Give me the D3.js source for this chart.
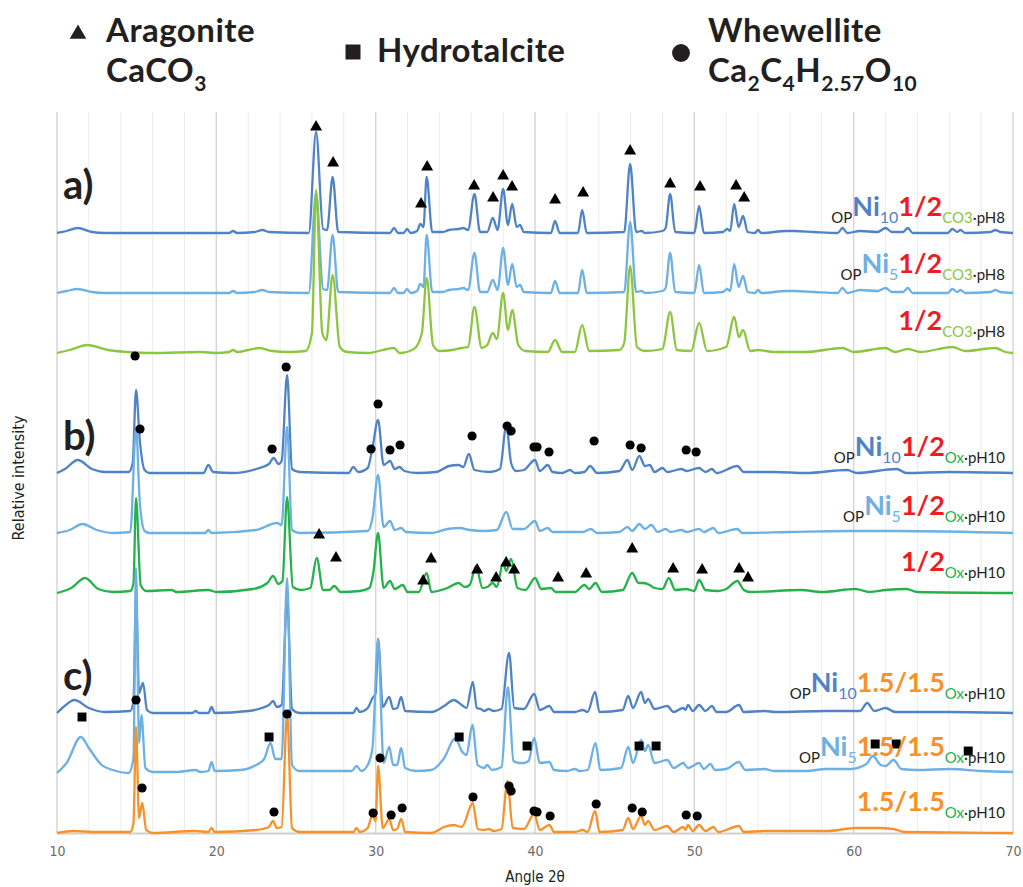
<!DOCTYPE html>
<html><head><meta charset="utf-8">
<script src="https://cdn.jsdelivr.net/npm/d3@7"></script>
<style>body{margin:0;background:#fff}svg{display:block}</style>
</head><body>
<svg id="chart" width="1023" height="887"></svg>
<script>
// ---------- DATA ----------
const xTickLabels = [10, 20, 30, 40, 50, 60, 70];
const traceNames = ["a1", "a2", "a3", "b1", "b2", "b3", "c1", "c2", "c3"];
const traceOffsets = [600, 540, 480, 360, 300, 240, 120, 60, 0];

const a1 = [[10,0],[10.6,2],[11.3,5],[12.2,1],[13,0],[20.8,0],[21.05,2],[21.3,0],[22.4,1],[22.9,3],[23.3,1],[25.8,0],[26.26,101],[26.7,4],[26.95,3],[27.3,56],[27.65,1],[30.9,0],[31.15,5],[31.4,0],[31.75,0],[31.97,4],[32.2,0],[32.6,2],[32.8,9],[33.0,6],[33.2,56],[33.55,1],[34.2,1],[34.6,3],[35.2,4],[35.5,5],[35.8,3],[36.2,39],[36.55,1],[37.0,1],[37.35,15],[37.65,3],[38.0,44],[38.3,8],[38.57,29],[38.85,6],[39.06,8],[39.3,1],[41.0,0],[41.26,12],[41.55,0],[42.7,0],[42.96,23],[43.25,0],[45.6,1],[45.97,69],[46.35,1],[46.7,2],[46.9,0],[48.0,2],[48.2,5],[48.48,39],[48.8,1],[50.0,0],[50.3,27],[50.6,0],[51.8,1],[52.06,4],[52.25,2],[52.5,29],[52.78,6],[53.06,17],[53.35,1],[53.8,0],[54.0,3],[54.2,0],[55.8,2],[56.3,2],[57.5,1],[59.0,0],[59.3,5],[59.6,0],[60.4,2],[61.5,1],[62.0,5],[62.4,1],[63.1,1],[63.4,5],[63.7,0],[65.9,0],[66.2,4],[66.5,1],[66.7,3],[67.0,0],[68.6,1],[68.9,3],[69.2,1],[70,0]];
const a2 = [[10,0],[10.6,2],[11.3,4],[12.2,1],[13,0],[20.8,0],[21.05,2],[21.3,0],[22.4,1],[22.9,3],[23.3,1],[25.8,0],[26.26,100],[26.7,4],[26.95,3],[27.3,58],[27.65,1],[30.9,0],[31.15,5],[31.4,0],[31.75,0],[31.97,4],[32.2,0],[32.6,2],[32.8,9],[33.0,6],[33.2,58],[33.55,1],[34.2,1],[34.6,3],[35.2,4],[35.5,5],[35.8,3],[36.2,40],[36.55,1],[37.0,1],[37.35,13],[37.65,3],[38.0,45],[38.3,8],[38.57,29],[38.85,6],[39.06,8],[39.3,1],[41.0,0],[41.26,12],[41.55,0],[42.7,0],[42.96,23],[43.25,0],[45.6,1],[45.97,71],[46.35,1],[46.7,2],[46.9,0],[48.0,2],[48.2,5],[48.48,40],[48.8,1],[50.0,0],[50.3,28],[50.6,0],[51.8,1],[52.06,4],[52.25,2],[52.5,29],[52.78,6],[53.06,17],[53.35,1],[53.8,0],[54.0,3],[54.2,0],[55.8,2],[56.3,2],[57.5,1],[59.0,0],[59.3,5],[59.6,0],[60.4,3],[61.5,2],[62.0,5],[62.4,1],[63.1,1],[63.4,5],[63.7,0],[65.9,0],[66.2,4],[66.5,1],[66.7,3],[67.0,0],[68.6,1],[68.9,3],[69.2,1],[70,0]];
const a3 = [[10,0],[10.8,3],[11.9,8],[13.2,3],[14.5,1],[16,0],[19,1],[20,0],[20.8,1],[21.05,3],[21.3,1],[22.0,3],[22.7,5],[23.5,2],[24.5,1],[25.6,2],[26.0,20],[26.26,163],[26.65,20],[26.9,13],[27.3,78],[27.75,6],[28.2,1],[29.5,0],[31.15,5],[31.5,0],[32.4,4],[32.9,20],[33.2,75],[33.6,8],[34.0,2],[34.8,3],[35.4,5],[35.8,6],[36.2,46],[36.65,5],[37.0,8],[37.35,20],[37.6,14],[38.0,60],[38.3,23],[38.57,43],[38.95,8],[39.4,2],[40.8,1],[41.26,13],[41.7,1],[42.5,1],[42.96,28],[43.4,2],[45.3,3],[45.6,10],[45.97,87],[46.4,6],[46.9,2],[48.0,4],[48.48,41],[48.9,3],[49.8,2],[50.3,30],[50.8,2],[52.0,6],[52.5,36],[52.8,16],[53.06,23],[53.5,2],[54.0,3],[55,1],[57,1],[59.3,5],[60,1],[62.0,5],[62.6,1],[63.4,4],[64.2,1],[66.2,6],[67.0,2],[68.9,5],[69.5,1],[70,0]];
const b1 = [[10,0],[10.5,4],[11.3,13],[12.2,4],[13,1],[14.5,1],[14.75,10],[14.96,83],[15.2,32],[15.5,3],[15.8,0],[19.2,0],[19.5,8],[19.8,1],[21,0],[22.5,4],[23.3,9],[23.6,15],[23.9,9],[24.1,12],[24.44,98],[24.75,4],[25.2,1],[28.3,0],[28.6,6],[28.9,1],[29.5,5],[29.8,25],[30.15,53],[30.5,8],[30.9,12],[31.2,4],[31.5,6],[31.8,2],[32.6,0],[33.8,1],[34.6,7],[35.2,8],[35.5,6],[35.85,19],[36.2,3],[37.2,1],[37.8,4],[38.2,47],[38.5,10],[38.8,2],[39.3,3],[40.0,13],[40.3,2],[40.8,8],[41.1,1],[41.7,0],[42.2,3],[42.5,0],[43.1,1],[43.46,7],[43.9,0],[45.3,2],[45.8,13],[46.1,3],[46.55,17],[46.9,7],[47.2,8],[47.5,1],[48.0,5],[48.3,1],[49.2,4],[49.5,2],[50.3,5],[50.7,1],[51.1,4],[51.4,0],[52.7,7],[53.1,1],[55,1],[57,0],[59.6,3],[60.2,0],[62.7,4],[63.3,0],[66,1],[70,0]];
const b2 = [[10,0],[10.8,3],[11.6,9],[12.5,3],[13.5,0],[14.6,1],[14.96,105],[15.2,30],[15.5,2],[15.8,0],[19.3,0],[19.5,3],[19.7,0],[22.5,3],[23.8,10],[24.1,8],[24.44,106],[24.75,3],[25.2,0],[29.5,2],[29.8,15],[30.15,58],[30.5,6],[30.9,12],[31.2,3],[31.6,5],[31.9,1],[33.5,0],[34.5,4],[35.3,5],[35.9,3],[36.8,2],[37.6,3],[38.2,21],[38.6,4],[39.3,4],[40.0,12],[40.3,2],[40.8,5],[41.1,1],[43.0,1],[43.5,4],[43.9,0],[45.3,1],[45.8,6],[46.1,2],[46.55,9],[46.9,4],[47.3,8],[47.7,1],[48.2,4],[48.5,1],[49.2,3],[49.5,1],[50.3,4],[50.6,1],[51.2,5],[51.5,0],[52.7,4],[53,0],[56,1],[59.6,2],[62.7,2],[70,0]];
const b3 = [[10,0],[10.9,5],[11.76,15],[12.6,4],[13.5,1],[14.6,2],[14.8,10],[14.96,95],[15.25,8],[15.6,2],[17.2,3],[17.5,1],[19.5,3],[20,1],[22.3,4],[23.2,10],[23.56,17],[23.9,9],[24.15,12],[24.44,96],[24.8,6],[25.3,3],[25.9,5],[26.3,35],[26.7,3],[27.1,3],[27.4,7],[27.8,1],[29.0,2],[29.6,5],[29.85,20],[30.15,60],[30.5,5],[30.9,12],[31.2,4],[31.7,8],[32.0,1],[32.7,1],[33.2,20],[33.5,1],[34.5,5],[35.2,10],[35.6,6],[35.9,8],[36.3,27],[36.7,5],[37.0,6],[37.35,10],[37.6,6],[38.0,30],[38.2,22],[38.5,34],[38.9,5],[39.4,3],[40.0,15],[40.4,4],[41.0,5],[41.3,1],[42.5,1],[43.1,8],[43.4,4],[43.8,10],[44.2,1],[45.5,3],[46.1,20],[46.5,10],[46.8,10],[47.2,8],[47.5,5],[48.0,4],[48.4,15],[48.8,3],[49.5,4],[50.0,2],[50.3,13],[50.7,3],[51.5,2],[52.0,4],[52.7,12],[53.1,3],[53.5,1],[56.7,3],[58,1],[60.1,4],[61,1],[62.0,3],[63.3,4],[64,1],[70,0]];
const c1 = [[10,0],[10.4,6],[11.1,13],[12,5],[13,1],[14.6,2],[14.8,12],[14.96,115],[15.15,20],[15.4,30],[15.65,3],[16,0],[18.5,0],[18.7,2],[18.9,0],[19.5,0],[19.7,6],[19.9,0],[22,2],[23.3,8],[23.56,12],[23.8,6],[24.1,8],[24.44,115],[24.75,4],[25.2,0],[28.6,0],[28.8,5],[29.0,1],[29.5,5],[29.8,15],[30.0,20],[30.15,74],[30.45,6],[30.85,16],[31.1,4],[31.35,5],[31.6,16],[31.85,2],[33.5,1],[34.3,7],[34.9,13],[35.4,8],[35.7,5],[36.1,31],[36.35,5],[36.6,4],[36.8,2],[37.1,4],[37.4,2],[37.9,4],[38.37,60],[38.7,5],[39.3,4],[39.95,19],[40.3,3],[40.9,7],[41.2,1],[42.5,1],[43.0,3],[43.3,1],[43.77,21],[44.05,1],[45.5,3],[45.85,17],[46.15,5],[46.66,21],[46.9,10],[47.1,14],[47.5,4],[48.3,7],[48.7,1],[49.3,5],[49.45,3],[49.6,8],[49.9,2],[50.3,8],[50.7,2],[51.1,7],[51.4,1],[52.0,1],[52.8,8],[53.1,1],[54.4,2],[55.1,1],[58.3,2],[60.4,2],[60.85,10],[61.3,2],[62.0,5],[62.6,1],[66,1],[70,0]];
const c2 = [[10,0],[10.6,10],[11.5,36],[12.0,25],[12.8,8],[13.5,3],[14.5,0],[14.8,15],[14.96,205],[15.15,30],[15.3,58],[15.55,5],[16,1],[17.5,1],[18.7,3],[19.0,1],[19.5,2],[19.7,11],[19.9,2],[21.5,3],[22.5,8],[23.0,14],[23.4,30],[23.7,14],[24.1,14],[24.44,195],[24.75,8],[25.2,2],[28.5,2],[28.8,7],[29.1,2],[29.5,8],[29.8,25],[30.15,133],[30.5,10],[30.85,26],[31.1,8],[31.35,8],[31.6,25],[31.85,5],[32.5,2],[33.5,3],[34.3,15],[35.0,35],[35.4,22],[35.7,18],[36.07,48],[36.4,8],[36.8,5],[37.0,8],[37.3,3],[37.9,6],[38.3,86],[38.65,12],[39.0,10],[39.3,10],[39.6,12],[39.95,35],[40.3,10],[40.9,11],[41.2,3],[42.0,2],[42.5,4],[42.8,2],[43.3,3],[43.8,30],[44.1,3],[45.4,5],[45.85,26],[46.15,10],[46.66,33],[46.9,22],[47.1,28],[47.5,10],[48.3,13],[48.7,5],[49.3,10],[49.6,5],[50.3,10],[50.6,4],[51.0,9],[51.3,3],[52.0,4],[52.8,11],[53.2,3],[54.4,4],[55.0,2],[57,2],[58.3,4],[59.8,4],[60.8,9],[61.2,17],[61.7,8],[62.0,7],[62.5,13],[63.0,4],[64,3],[66,4],[68,2],[70,1]];
const c3 = [[10,0],[11,2],[12.5,1],[14.6,1],[14.8,10],[14.96,106],[15.15,15],[15.35,30],[15.6,3],[16,0],[18.7,2],[19.5,1],[19.7,5],[19.9,1],[22.5,3],[23.3,6],[23.56,12],[23.8,5],[24.1,6],[24.44,119],[24.75,5],[25.2,1],[28.6,1],[28.8,5],[29.0,1],[29.5,5],[29.8,18],[30.0,12],[30.15,67],[30.45,5],[30.85,14],[31.1,3],[31.35,4],[31.6,14],[31.85,1],[33.5,0],[34.3,6],[34.9,8],[35.4,6],[36.1,30],[36.4,4],[36.8,3],[37.1,4],[37.4,2],[37.9,4],[38.27,52],[38.6,5],[39.3,4],[39.95,19],[40.3,3],[40.9,8],[41.2,1],[42.5,1],[43.0,3],[43.3,1],[43.77,22],[44.05,1],[45.5,3],[45.85,15],[46.15,4],[46.66,17],[46.9,8],[47.1,12],[47.5,3],[48.3,7],[48.7,1],[49.3,6],[49.45,3],[49.6,8],[49.9,2],[50.3,8],[50.7,2],[51.2,6],[51.5,1],[52.8,7],[53.1,1],[54.4,2],[58.3,2],[60.2,5],[61.5,5],[62.5,4],[63.2,1],[70,0]];
const traceData = [a1, a2, a3, b1, b2, b3, c1, c2, c3];

// phase markers: [angle 2θ, absolute intensity on the stacked scale]
const aragoniteMarks = [[26.26,706],[27.33,670],[32.85,629],[33.23,666],[36.18,647],[37.37,635],[38.0,657],[38.56,646],[41.26,633],[43.02,640],[45.97,682],[48.48,649],[50.36,646],[52.62,647],[53.13,635],
  [26.45,298],[27.51,275],[32.98,252],[33.48,274],[36.37,263],[37.56,255],[38.19,270],[38.69,263],[41.45,255],[43.21,259],[46.1,284],[48.67,264],[50.49,263],[52.81,264],[53.37,255]];
const whewelliteMarks = [[14.9,477],[15.21,404],[23.5,384],[24.38,466],[29.71,384],[30.15,429],[30.9,383],[31.53,388],[36.05,397],[38.25,407],[38.5,402],[39.94,386],[40.13,386],[40.88,381],[43.71,392],[45.97,388],[46.66,385],[49.49,383],[50.11,381],
  [14.96,133],[24.44,119],[15.34,45],[23.62,21],[29.84,20],[30.28,75],[30.97,18],[31.66,25],[36.11,36],[38.37,47],[38.5,42],[39.94,22],[40.13,21],[40.95,17],[43.84,29],[46.1,25],[46.73,21],[49.49,18],[50.18,17]];
const hydrotalciteMarks = [[11.57,116],[23.31,96],[35.24,96],[39.5,87],[46.53,87],[47.6,87],[61.35,89],[62.67,89],[67.19,82]];

const sectionLabels = ["a)", "b)", "c)"];
// sample label pieces: [text, kind]
const sampleLabels = [
  [["OP","s"],["Ni","niD"],["10","subD"],["1/2","red"],["CO3","co3"],["·pH8","s"]],
  [["OP","s"],["Ni","niL"],["5","subL"],["1/2","red"],["CO3","co3"],["·pH8","s"]],
  [["1/2","red"],["CO3","co3"],["·pH8","s"]],
  [["OP","s"],["Ni","niD"],["10","subD"],["1/2","red"],["Ox","ox"],["·pH10","s"]],
  [["OP","s"],["Ni","niL"],["5","subL"],["1/2","red"],["Ox","ox"],["·pH10","s"]],
  [["1/2","red"],["Ox","ox"],["·pH10","s"]],
  [["OP","s"],["Ni","niD"],["10","subD"],["1.5/1.5","org"],["Ox","ox"],["·pH10","s"]],
  [["OP","s"],["Ni","niL"],["5","subL"],["1.5/1.5","org"],["Ox","ox"],["·pH10","s"]],
  [["1.5/1.5","org"],["Ox","ox"],["·pH10","s"]]
];

// ---------- STYLE ----------
const C = {dark:"#5083c6", light:"#6db0e3", lime:"#8cc63f", green:"#25b24a", orange:"#f7922a", red:"#ed1c24", ink:"#231f20"};
const traceColors = [C.dark, C.light, C.lime, C.dark, C.light, C.green, C.dark, C.light, C.orange];
const labelRise = [17, 20, 23, 17, 18, 22, 21, 17, 22];
const FONT = "Lato, 'Open Sans', sans-serif";
const NARROW = "'Liberation Sans Narrow', 'DejaVu Sans Condensed', 'Roboto', sans-serif";

const svg = d3.select("#chart");
const x = d3.scaleLinear().domain([10, 70]).range([57, 1013]);
const y = d3.scaleLinear().domain([0, 721]).range([833, 112]);

// gridlines
svg.append("g").selectAll("line").data(x.ticks(30)).join("line")
  .attr("x1", d => x(d)).attr("x2", d => x(d)).attr("y1", y(721)).attr("y2", y(0))
  .attr("stroke", d => d % 10 === 0 ? "#d6d6d6" : "#ececec").attr("stroke-width", d => d % 10 === 0 ? 1.5 : 1);

// x axis
const xAxis = svg.append("g").attr("transform", `translate(0,${y(0)})`)
  .call(d3.axisBottom(x).tickValues(xTickLabels).tickSize(0).tickPadding(13));
xAxis.select(".domain").attr("stroke", "#cfcfcf").attr("stroke-width", 2);
xAxis.selectAll("text").attr("font-family", NARROW).attr("font-size", 14).attr("fill", "#6b6b6b");

svg.append("text").attr("x", 535).attr("y", 882).attr("text-anchor", "middle")
  .attr("font-family", NARROW).attr("font-size", 15).attr("fill", C.ink).text("Angle 2θ");
svg.append("text").attr("transform", "translate(24,478) rotate(-90)").attr("text-anchor", "middle")
  .attr("font-family", NARROW).attr("font-size", 16).attr("fill", C.ink).text("Relative intensity");

// traces
const line = d3.line().curve(d3.curveMonotoneX);
traceData.forEach((data, i) => {
  svg.append("path").datum(data)
    .attr("d", line.x(d => x(d[0])).y(d => y(d[1] + traceOffsets[i])))
    .attr("fill", "none").attr("stroke", traceColors[i]).attr("stroke-width", 2.3)
    .attr("stroke-linejoin", "round");
});

// markers
const mk = (data, type, size) => svg.append("g").selectAll("path").data(data).join("path")
  .attr("d", d3.symbol().type(type).size(size))
  .attr("transform", d => `translate(${x(d[0])},${y(d[1])})`).attr("fill", "#000");
mk(aragoniteMarks, d3.symbolTriangle, 62);
mk(whewelliteMarks, d3.symbolCircle, 66);
mk(hydrotalciteMarks, d3.symbolSquare, 80);

// section labels
const secBase = [199, 450, 690];
sectionLabels.forEach((t, i) => svg.append("text").attr("x", 63).attr("y", secBase[i])
  .attr("font-family", FONT).attr("font-weight", 700).attr("font-size", 40).attr("fill", C.ink).text(t));

// sample labels
const kinds = {
  s:{size:15, fill:C.ink, big:false, w:400},
  niD:{size:27, fill:C.dark, big:true, w:700}, subD:{size:16, fill:C.dark, big:false, w:400},
  niL:{size:27, fill:C.light, big:true, w:700}, subL:{size:16, fill:C.light, big:false, w:400},
  red:{size:27, fill:C.red, big:true, w:700}, org:{size:27, fill:C.orange, big:true, w:700},
  co3:{size:15, fill:C.lime, big:false, w:400}, ox:{size:15, fill:C.green, big:false, w:400}
};
sampleLabels.forEach((parts, i) => {
  const bigY = y(traceOffsets[i]) - labelRise[i];
  const firstBig = kinds[parts[0][1]].big;
  const t = svg.append("text").attr("x", 1005).attr("y", firstBig ? bigY : bigY + 7).attr("text-anchor", "end")
    .attr("font-family", FONT);
  let prevBig = firstBig;
  parts.forEach(([txt, k]) => {
    const K = kinds[k];
    const dy = (K.big && !prevBig) ? -7 : (!K.big && prevBig ? 7 : 0);
    t.append("tspan").attr("dy", dy).attr("font-size", K.size).attr("font-weight", K.w)
      .attr("fill", K.fill).text(txt);
    prevBig = K.big;
  });
});

// legend
const lg = svg.append("g").attr("font-family", FONT).attr("font-weight", 700).attr("fill", C.ink);
lg.append("path").attr("d", d3.symbol().type(d3.symbolTriangle).size(120)()).attr("transform", "translate(78,34)");
lg.append("path").attr("d", d3.symbol().type(d3.symbolSquare).size(225)()).attr("transform", "translate(353,52)");
lg.append("path").attr("d", d3.symbol().type(d3.symbolCircle).size(250)()).attr("transform", "translate(681,53)");
const legText = (xp, yp, pieces) => {
  const t = lg.append("text").attr("x", xp).attr("y", yp).attr("font-size", 33).attr("letter-spacing", 0.5);
  pieces.forEach(([s, sub]) => {
    t.append("tspan").attr("font-size", sub === 1 ? 21 : 33).attr("dy", sub === 1 ? 9 : (sub === -1 ? -9 : 0)).text(s);
  });
};
legText(106, 42, [["Aragonite", 0]]);
legText(106, 82, [["CaCO", 0], ["3", 1]]);
legText(377, 62, [["Hydrotalcite", 0]]);
legText(708, 42, [["Whewellite", 0]]);
legText(708, 82, [["Ca", 0], ["2", 1], ["C", -1], ["4", 1], ["H", -1], ["2.57", 1], ["O", -1], ["10", 1]]);
</script>
</body></html>
